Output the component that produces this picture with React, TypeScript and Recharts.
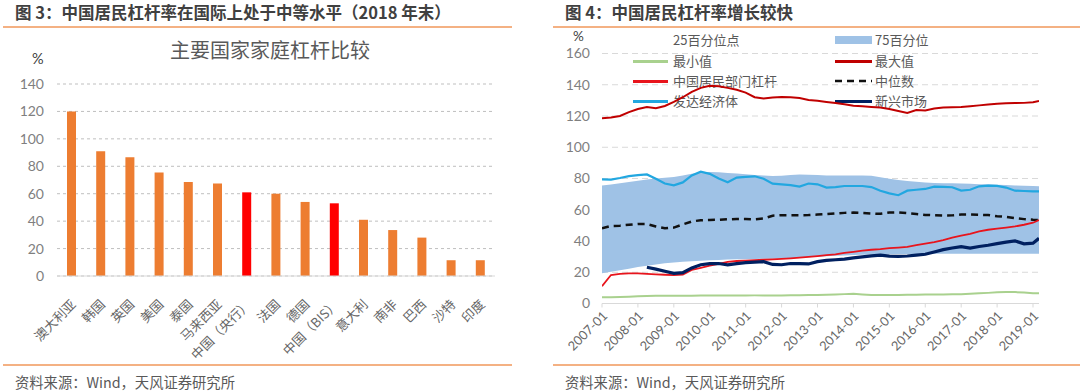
import React from "react";
import {
  BarChart,
  Bar,
  Cell,
  XAxis,
  YAxis,
  CartesianGrid,
  ComposedChart,
  Line,
  Area,
} from "recharts";

const FONT = "'Noto Sans CJK SC', 'Noto Sans', sans-serif";
const NUM_FONT = "Lato, 'Noto Sans', sans-serif";

// ---------- Figure 3 data ----------
const countries = [
  "澳大利亚", "韩国", "英国", "美国", "泰国", "马来西亚", "中国（央行）", "法国",
  "德国", "中国（BIS）", "意大利", "南非", "巴西", "沙特", "印度",
];
const leverage = [120, 91, 86.5, 75.5, 68.5, 67.5, 61, 60, 54, 53, 41, 33.5, 28, 11.5, 11.5];
const isChina = [false, false, false, false, false, false, true, false, false, true, false, false, false, false, false];
const barTicks = [0, 20, 40, 60, 80, 100, 120, 140];

// ---------- Figure 4 data (months since 2007-01) ----------
const months = [0, 3, 6, 9, 12, 15, 18, 21, 24, 27, 30, 33, 36, 39, 42, 45, 48, 51, 54, 57, 60, 63, 66, 69, 72, 75, 78, 81, 84, 87, 90, 93, 96, 99, 102, 105, 108, 111, 114, 117, 120, 123, 126, 129, 132, 135, 138, 141, 144, 146];
const p25 = [19.3, 20.3, 21.3, 22.3, 23.3, 24.2, 25, 25.7, 26.2, 26.7, 27.1, 27.4, 27.7, 27.9, 28.1, 28.3, 28.4, 28.5, 28.6, 28.7, 28.8, 29, 29.3, 29.6, 29.9, 30.2, 30.5, 30.8, 31, 31.2, 31.4, 31.5, 31.6, 31.7, 31.7, 31.7, 31.8, 31.8, 31.8, 31.8, 31.8, 31.8, 31.8, 31.8, 31.8, 31.8, 31.8, 31.8, 31.8, 31.8];
const p75 = [75.6, 76.2, 77, 77.8, 78.6, 79.3, 80, 80.5, 81, 82, 83, 83.8, 84.2, 84, 83.6, 83.2, 82.8, 82.3, 81.9, 81.6, 81.8, 82.2, 82.5, 82.4, 82.3, 82, 81.9, 81.9, 82, 82, 81.7, 80.8, 79.8, 79.1, 78.4, 77.9, 77.5, 77.2, 77, 76.9, 76.8, 76.6, 76.4, 76.3, 76, 75.8, 75.6, 75.4, 75.2, 75];
const minVals = [4, 4, 4.1, 4.3, 4.6, 4.8, 4.9, 5, 5, 5, 5, 5.1, 5.1, 5.1, 5.1, 5.1, 5.1, 5.2, 5.2, 5.2, 5.2, 5.3, 5.3, 5.4, 5.5, 5.6, 5.8, 6, 6.2, 5.8, 5.4, 5.4, 5.5, 5.5, 5.6, 5.6, 5.8, 5.8, 5.8, 5.9, 5.9, 6.2, 6.5, 6.8, 7.2, 7.3, 7.3, 7, 6.6, 6.5];
const maxVals = [118.5, 119, 120, 122.5, 124.5, 125.8, 125, 126.4, 129, 132, 135.5, 138, 139.3, 139, 138, 136.8, 135, 132, 131.2, 131.8, 132.2, 132, 131.5, 130.3, 129.8, 129, 128.3, 127.5, 126.6, 126.2, 125.8, 125.5, 124.5, 123.2, 122, 123.8, 123.6, 124.8, 125.4, 125.6, 125.8, 126.3, 126.8, 127.3, 127.8, 128.1, 128.3, 128.4, 128.8, 129.6];
const chinaVals = [11, 18.2, 19, 19.3, 19.3, 19, 18.7, 18.4, 18.2, 18.5, 21.5, 22.8, 24.2, 25.4, 26.7, 27.2, 27.5, 27.8, 28, 28.2, 28.5, 28.9, 29.3, 29.8, 30.3, 30.9, 31.5, 32.4, 33.1, 33.8, 34.4, 34.8, 35.4, 35.8, 36.3, 37.3, 38.3, 39.3, 40.6, 42.2, 43.4, 44.6, 46.2, 47.2, 47.9, 48.6, 49.3, 50.4, 51.7, 53.4];
const medianVals = [48.1, 49.6, 49.8, 50.4, 50.9, 50.9, 49.3, 48.1, 48.6, 50.6, 52.5, 53.3, 53.5, 53.6, 53.9, 54.1, 54.1, 53.9, 54.4, 56.2, 56.5, 56.5, 56.5, 56.6, 56.9, 57.2, 57.6, 58, 58.2, 57.9, 57.6, 57.4, 58.2, 58.3, 57.8, 57.3, 56.7, 56.5, 56.3, 56.4, 56.9, 57, 56.8, 56.6, 55.9, 55.4, 54.6, 54, 53.6, 53.5];
const developedVals = [79.5, 79.3, 80.3, 81.5, 82.2, 82.6, 79.8, 76.8, 75.6, 77.5, 82, 84.4, 83, 80, 77.6, 80.6, 81, 81.4, 79.8, 76.7, 76.2, 75.8, 74.8, 76.8, 76.3, 74.2, 74.5, 75.2, 75.2, 75.2, 74.5, 72.2, 70.5, 69.3, 72.2, 72.8, 73.3, 74.8, 74.6, 74.4, 72.3, 72.8, 75, 75.5, 75.3, 74.2, 72.2, 72, 71.8, 71.8];
const emergingVals: (number | null)[] = [null, null, null, null, null, 23.2, 22, 20.6, 19.3, 19.7, 22.8, 24.8, 25.5, 25.6, 24.7, 25.5, 26.2, 26.5, 26.8, 25, 24.8, 25.6, 25.5, 25.3, 26.8, 27.6, 28, 28.4, 29.2, 29.8, 30.5, 31, 30.3, 30.2, 30.4, 31, 31.5, 33, 34.5, 35.5, 36.4, 35.5, 36.5, 37.3, 38.3, 39.3, 40, 38.2, 38.6, 41.7];
const yearTicks = [0, 12, 24, 36, 48, 60, 72, 84, 96, 108, 120, 132, 144];
const lineTicks = [0, 20, 40, 60, 80, 100, 120, 140, 160];

const barData = countries.map((c, i) => ({ name: c, v: leverage[i], china: isChina[i] }));
const lineData = months.map((m, i) => ({
  m,
  band: [p25[i], p75[i]],
  minV: minVals[i],
  maxV: maxVals[i],
  china: chinaVals[i],
  median: medianVals[i],
  developed: developedVals[i],
  emerging: emergingVals[i],
}));

const C_MAX = "#C00000";
const C_CHINA = "#E8141C";
const C_DEV = "#22A7E0";
const C_EM = "#002060";
const C_MED = "#111111";
const C_MIN = "#A9D18E";
const C_BAND = "#9FC2E6";

const CountryTick = (props: any) => {
  const { x, y, payload } = props;
  const ax = x + 2;
  const ay = y + 26;
  return (
    <text x={ax} y={ay} dy="0.35em" textAnchor="end" transform={`rotate(-45 ${ax} ${ay})`}
      fontSize={13} fill="#666666" fontFamily={FONT}>
      {payload.value}
    </text>
  );
};

const DateTick = (props: any) => {
  const { x, y, payload } = props;
  const ax = x + 3;
  const ay = y + 6;
  const label = `${2007 + Math.round(payload.value / 12)}-01`;
  return (
    <text x={ax} y={ay} dy="0.35em" textAnchor="end" transform={`rotate(-45 ${ax} ${ay})`}
      fontSize={12.8} fill="#666666" fontFamily={NUM_FONT}>
      {label}
    </text>
  );
};

const abs = (l: number, t: number): React.CSSProperties => ({ position: "absolute", left: l, top: t });

const legendItems = [
  { label: "25百分位点", type: "none", color: "" },
  { label: "75百分位", type: "rect", color: C_BAND },
  { label: "最小值", type: "line", color: C_MIN },
  { label: "最大值", type: "line", color: C_MAX },
  { label: "中国居民部门杠杆", type: "line", color: C_CHINA },
  { label: "中位数", type: "dash", color: C_MED },
  { label: "发达经济体", type: "line", color: C_DEV },
  { label: "新兴市场", type: "line", color: C_EM },
];

function Legend4() {
  const rows = [40, 61, 81, 101];
  return (
    <>
      {legendItems.map((it, i) => {
        const col = i % 2;
        const row = Math.floor(i / 2);
        const sx = col === 0 ? 633 : 835;
        const sw = col === 0 ? 35 : 37;
        const tx = col === 0 ? 673 : 875;
        const cy = rows[row];
        let sym: React.ReactNode = null;
        if (it.type === "rect") {
          sym = <div style={{ ...abs(sx, cy - 4), width: sw, height: 8, background: it.color }} />;
        } else if (it.type === "line") {
          sym = <div style={{ ...abs(sx, cy - 1.5), width: sw, height: 3, background: it.color }} />;
        } else if (it.type === "dash") {
          sym = (
            <svg style={{ ...abs(sx, cy - 2) }} width={sw} height={4}>
              <line x1={0} y1={2} x2={sw} y2={2} stroke={it.color} strokeWidth={2.5} strokeDasharray="7 5" />
            </svg>
          );
        }
        return (
          <React.Fragment key={it.label}>
            {sym}
            <div style={{ ...abs(tx, cy - 10), fontSize: 13, lineHeight: "20px", color: "#595959", whiteSpace: "nowrap" }}>
              {it.label}
            </div>
          </React.Fragment>
        );
      })}
    </>
  );
}

export default function App() {
  return (
    <div style={{ position: "absolute", left: 0, top: 0, width: 1080, height: 391, background: "#fff", fontFamily: FONT, overflow: "hidden" }}>
      {/* Figure 3 header */}
      <div style={{ ...abs(15, 1), fontSize: 16.5, fontWeight: 700, color: "#404040", lineHeight: "22px", whiteSpace: "nowrap" }}>
        图 3：中国居民杠杆率在国际上处于中等水平（2018 年末）
      </div>
      <div style={{ ...abs(3, 26), width: 509, height: 2, background: "#F4B183" }} />
      <div style={{ ...abs(0, 38), width: 540, textAlign: "center", fontSize: 20, color: "#595959", lineHeight: "24px" }}>
        主要国家家庭杠杆比较
      </div>
      <div style={{ ...abs(32, 51), fontSize: 14.5, color: "#404040", lineHeight: "16px", fontFamily: NUM_FONT }}>%</div>

      <div style={abs(0, 0)}>
        <BarChart width={540} height={391} data={barData} margin={{ top: 84, right: 45, bottom: 0, left: 0 }}>
          <CartesianGrid vertical={false} stroke="#BFBFBF" strokeDasharray="3 3" />
          <XAxis dataKey="name" interval={0} height={115} tickLine={false} tickSize={0} tickMargin={0}
            axisLine={{ stroke: "#D9D9D9" }} tick={<CountryTick />} />
          <YAxis width={57} domain={[0, 140]} ticks={barTicks} axisLine={false} tickLine={false}
            tickSize={0} tickMargin={13} tick={{ fontSize: 14, fill: "#7F7F7F", fontFamily: NUM_FONT }} />
          <Bar dataKey="v" barSize={9} isAnimationActive={false}>
            {barData.map((d) => (
              <Cell key={d.name} fill={d.china ? "#FF0000" : "#ED7D31"} />
            ))}
          </Bar>
        </BarChart>
      </div>

      <div style={{ ...abs(3, 364), width: 509, height: 2, background: "#F4B183" }} />
      <div style={{ ...abs(15, 372), fontSize: 14.3, color: "#595959", lineHeight: "20px", whiteSpace: "nowrap" }}>
        资料来源：Wind，天风证券研究所
      </div>

      {/* Figure 4 header */}
      <div style={{ ...abs(565, 1), fontSize: 16.5, fontWeight: 700, color: "#404040", lineHeight: "22px", whiteSpace: "nowrap" }}>
        图 4：中国居民杠杆率增长较快
      </div>
      <div style={{ ...abs(553, 26), width: 527, height: 2, background: "#F4B183" }} />
      <div style={{ ...abs(573, 30), fontSize: 13.5, color: "#404040", lineHeight: "12px", fontFamily: NUM_FONT }}>%</div>

      <Legend4 />

      <div style={abs(540, 0)}>
        <ComposedChart width={540} height={391} data={lineData} margin={{ top: 53.5, right: 41, bottom: 0, left: 0 }}>
          <CartesianGrid vertical={false} stroke="#D9D9D9" strokeDasharray="6 4" />
          <XAxis dataKey="m" type="number" domain={[0, 146]} ticks={yearTicks} height={87.5}
            tickSize={4} tickMargin={0} tickLine={{ stroke: "#D9D9D9" }} axisLine={{ stroke: "#D9D9D9" }}
            tick={<DateTick />} allowDataOverflow />
          <YAxis width={62} domain={[0, 160]} ticks={lineTicks} axisLine={false} tickLine={false}
            tickSize={0} tickMargin={12} tick={{ fontSize: 14, fill: "#7F7F7F", fontFamily: NUM_FONT }} />
          <Area dataKey="band" type="linear" fill={C_BAND} fillOpacity={1} stroke="none" isAnimationActive={false} dot={false} activeDot={false} />
          <Line dataKey="minV" type="linear" stroke={C_MIN} strokeWidth={2} dot={false} isAnimationActive={false} />
          <Line dataKey="maxV" type="linear" stroke={C_MAX} strokeWidth={2} dot={false} isAnimationActive={false} />
          <Line dataKey="developed" type="linear" stroke={C_DEV} strokeWidth={2.2} dot={false} isAnimationActive={false} />
          <Line dataKey="median" type="linear" stroke={C_MED} strokeWidth={2.5} strokeDasharray="7 5" dot={false} isAnimationActive={false} />
          <Line dataKey="china" type="linear" stroke={C_CHINA} strokeWidth={1.8} dot={false} isAnimationActive={false} />
          <Line dataKey="emerging" type="linear" stroke={C_EM} strokeWidth={3.2} dot={false} isAnimationActive={false} connectNulls={false} />
        </ComposedChart>
      </div>

      <div style={{ ...abs(553, 364), width: 527, height: 2, background: "#F4B183" }} />
      <div style={{ ...abs(565, 372), fontSize: 14.3, color: "#595959", lineHeight: "20px", whiteSpace: "nowrap" }}>
        资料来源：Wind，天风证券研究所
      </div>
    </div>
  );
}
